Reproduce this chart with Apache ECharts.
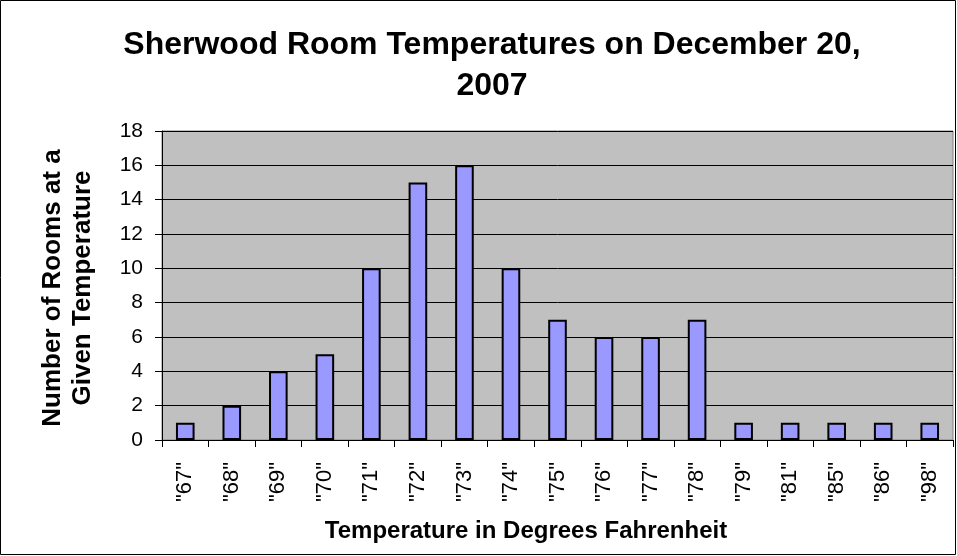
<!DOCTYPE html>
<html>
<head>
<meta charset="utf-8">
<script src="https://cdn.jsdelivr.net/npm/echarts@6/dist/echarts.min.js"></script>
<style>
  html, body { margin: 0; padding: 0; background: #fff; }
  #chart { width: 957px; height: 556px; }
</style>
</head>
<body>
<div id="chart"></div>
<script>
// temperatures (x categories) and room counts
const temps = ['"67"', '"68"', '"69"', '"70"', '"71"', '"72"', '"73"', '"74"', '"75"',
  '"76"', '"77"', '"78"', '"79"', '"81"', '"85"', '"86"', '"98"'];
const rooms = [1, 2, 4, 5, 10, 15, 16, 10, 7, 6, 6, 7, 1, 1, 1, 1, 1];

const chart = echarts.init(document.getElementById('chart'));
const font = 'Arial, "Liberation Sans", sans-serif';

function label(text, x, y, size, extra) {
  return Object.assign({
    type: 'text', x: x, y: y, silent: true,
    style: {
      text: text, fontFamily: font, fontSize: size, fontWeight: 'bold', fill: '#000',
      align: 'center', verticalAlign: 'middle'
    }
  }, extra || {});
}

chart.setOption({
  animation: false,
  backgroundColor: '#fff',
  graphic: [
    {
      type: 'rect',
      shape: { x: 0.5, y: 0.5, width: 955, height: 554 },
      style: { fill: 'none', stroke: '#000', lineWidth: 1 },
      silent: true
    },
    label('Sherwood Room Temperatures on December 20,', 492, 45, 32),
    label('2007', 492, 86, 32),
    label('Temperature in Degrees Fahrenheit', 526, 531, 24),
    {
      type: 'text',
      x: 68,
      y: 288,
      rotation: Math.PI / 2,
      silent: true,
      style: {
        text: 'Number of Rooms at a\nGiven Temperature',
        fontFamily: font, fontSize: 26, fontWeight: 'bold', fill: '#000',
        align: 'center', verticalAlign: 'middle', lineHeight: 30
      }
    }
  ],
  grid: {
    left: 162, right: 4, top: 131, bottom: 116,
    show: true, backgroundColor: '#C0C0C0', borderColor: '#808080', borderWidth: 1
  },
  xAxis: {
    type: 'category',
    data: temps,
    axisLine: { lineStyle: { color: '#000', width: 1 } },
    axisTick: { show: true, length: 7, lineStyle: { color: '#000' } },
    axisLabel: {
      rotate: 90, margin: 22, color: '#000', fontFamily: font, fontSize: 22
    }
  },
  yAxis: {
    type: 'value',
    min: 0, max: 18, interval: 2,
    axisLine: { show: true, lineStyle: { color: '#000', width: 1 } },
    axisTick: { show: true, length: 7, lineStyle: { color: '#000' } },
    axisLabel: { color: '#000', fontFamily: font, fontSize: 21, margin: 19 },
    splitLine: { lineStyle: { color: '#000', width: 1 } }
  },
  series: [{
    type: 'bar',
    data: rooms,
    barWidth: '40%',
    itemStyle: { color: '#9999FF', borderColor: '#000', borderWidth: 2 }
  }]
});
</script>
</body>
</html>
